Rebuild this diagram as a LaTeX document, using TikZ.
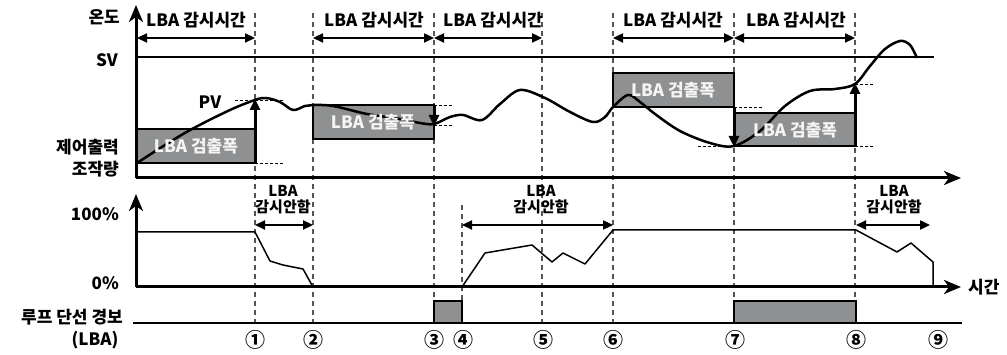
\documentclass[tikz,border=0pt]{standalone}
\usepackage{fontspec}
\setmainfont{Noto Sans CJK KR}[BoldFont={Noto Sans CJK KR Black}]
\usetikzlibrary{arrows.meta}
\definecolor{boxgray}{HTML}{8E9092}
\definecolor{dashgray}{HTML}{555555}
\definecolor{boxtext}{HTML}{F4F4F4}
\begin{document}
\begin{tikzpicture}[x=1pt,y=-1pt,
  lbl/.style={font=\fontsize{17}{19}\selectfont\bfseries, inner sep=0pt},
  small/.style={font=\fontsize{15}{16}\selectfont\bfseries, inner sep=0pt, align=center},
  num/.style={font=\fontsize{20}{20}\selectfont\bfseries, inner sep=0pt},
  axis/.style={line width=3pt, -{Stealth[length=17pt,width=14pt,inset=5pt]}},
  dimarr/.style={line width=2.3pt, {Triangle[length=10pt,width=9pt]}-{Triangle[length=10pt,width=9pt]}},
  vdash/.style={dashgray, line width=1.3pt, dash pattern=on 5pt off 4pt},
  hdot/.style={line width=0.9pt, dash pattern=on 3pt off 2pt},
  lbabox/.style={fill=boxgray, draw=black, line width=2.5pt},
  varr/.style={line width=3pt, -{Triangle[length=11pt,width=10pt]}},
  curve/.style={line width=2.5pt, line join=round},
  outline/.style={line width=1.5pt, line join=round},
  boxlbl/.style={lbl, text=boxtext}
]
\useasboundingbox (0,0) rectangle (1007,355);

% ---------- dashed vertical markers ----------
\foreach \n/\x in {1/255,2/313,3/434,5/542,6/613,7/734,8/855}{
  \coordinate (t\n) at (\x,13);
  \coordinate (b\n) at (\x,323);
  \draw[vdash] (t\n) -- (b\n);
}
\coordinate (t4) at (462,205);
\coordinate (b4) at (462,323);
\draw[vdash] (t4) -- (b4);

% ---------- SV line ----------
\coordinate (sv0) at (136,57);
\coordinate (sv1) at (934,57);
\draw[line width=1.5pt] (sv0) -- (sv1);

% ---------- LBA detection boxes ----------
\fill[boxgray] (137,129) rectangle (255,163);
\draw[line width=2.5pt] (255,129) -- (137,129) -- (137,163) -- (255,163);
\draw[lbabox] (313,105) rectangle (434,139);
\draw[lbabox] (613,73) rectangle (734,107);
\draw[lbabox] (734,113) rectangle (855,146);

% ---------- short dotted level lines ----------
\draw[hdot] (235,100) -- (283,100);
\draw[hdot] (255,163) -- (283,163);
\draw[hdot] (434,105) -- (453,105);
\draw[hdot] (434,125) -- (453,125);
\draw[hdot] (734,107) -- (762,107);
\draw[hdot] (698,146) -- (734,146);
\draw[hdot] (855,84) -- (874,84);
\draw[hdot] (855,146) -- (874,146);

% ---------- PV curve ----------
\draw[curve] plot[smooth, tension=0.55] coordinates {
 (137,163) (165,145) (192,129) (230,110) (255,100) (266,98) (280,102)
 (293,110) (305,106) (313,105) (333,106) (367,114) (400,119) (420,123) (434,124)
 (450,117) (463,115) (482,120) (500,104) (520,90) (545,98) (570,112) (593,122)
 (605,117) (613,107) (628,95) (640,102) (655,114) (680,131) (710,143) (734,146)
 (760,131) (785,106) (810,91) (835,89) (855,84) (870,66) (885,49) (900,41)
 (910,45) (917,58)};

% ---------- vertical arrows ----------
\coordinate (a1s) at (255,163); \coordinate (a1e) at (255,99);
\coordinate (a3s) at (434,105); \coordinate (a3e) at (434,126);
\coordinate (a7s) at (734,107); \coordinate (a7e) at (734,147);
\coordinate (a8s) at (855,146); \coordinate (a8e) at (855,83);
\draw[varr] (a1s) -- (a1e);
\draw[varr] (a3s) -- (a3e);
\draw[varr] (a7s) -- (a7e);
\draw[varr] (a8s) -- (a8e);

% ---------- box labels ----------
\node[boxlbl] (w1) at (196,146) {LBA 검출폭};
\node[boxlbl] (w2) at (373,122) {LBA 검출폭};
\node[boxlbl] (w3) at (673,90) {LBA 검출폭};
\node[boxlbl] (w4) at (795,130) {LBA 검출폭};

% ---------- upper axes ----------
\coordinate (o1) at (136,178);
\coordinate (y1) at (136,5);
\coordinate (x1) at (961,178);
\draw[axis] (o1) -- (y1);
\draw[axis] (o1) -- (x1);

% ---------- monitoring time arrows ----------
\coordinate (d0) at (137,38);
\coordinate (m1) at (255,38); \coordinate (m2) at (313,38);
\coordinate (m3) at (434,38); \coordinate (m5) at (542,38);
\coordinate (m6) at (613,38); \coordinate (m7) at (734,38);
\coordinate (m8) at (855,38);
\draw[dimarr] (d0) -- (m1);
\draw[dimarr] (m2) -- (m3);
\draw[dimarr] (m3) -- (m5);
\draw[dimarr] (m6) -- (m7);
\draw[dimarr] (m7) -- (m8);
\node[lbl] (g1) at (196,20) {LBA 감시시간};
\node[lbl] (g2) at (374,20) {LBA 감시시간};
\node[lbl] (g3) at (493,20) {LBA 감시시간};
\node[lbl] (g4) at (673,20) {LBA 감시시간};
\node[lbl] (g5) at (796,20) {LBA 감시시간};

% ---------- left labels ----------
\node[lbl, anchor=east] (temp) at (120,17) {온도};
\node[lbl, anchor=east] (sv) at (118,60) {SV};
\node[lbl] (pv) at (210,102) {PV};
\node[lbl, anchor=east] (mv1) at (119,147) {제어출력};
\node[lbl, anchor=east] (mv2) at (119,169) {조작량};

% ---------- lower output graph ----------
\coordinate (o2) at (136,287);
\coordinate (y2) at (136,194);
\coordinate (x2) at (961,287);
\draw[outline] (136,232) -- (255,232) -- (270,261) -- (283,265) -- (303,269) -- (313,287);
\draw[outline] (462,287) -- (485,253) -- (532,245) -- (552,262) -- (563,253)
  -- (585,264) -- (613,230) -- (856,230) -- (897,252) -- (911,243) -- (933,262) -- (933,287);
\draw[axis] (o2) -- (y2);
\draw[axis] (o2) -- (x2);
\node[lbl, anchor=east] (p100) at (119,214) {100\%};
\node[lbl, anchor=east] (p0) at (119,283) {0\%};
\node[lbl, anchor=west] (time) at (968,287) {시간};

\coordinate (n1a) at (255,225); \coordinate (n2a) at (313,225);
\coordinate (n4a) at (462,225); \coordinate (n6a) at (613,225);
\coordinate (n8a) at (856,225); \coordinate (n9a) at (930,225);
\draw[dimarr] (n1a) -- (n2a);
\draw[dimarr] (n4a) -- (n6a);
\draw[dimarr] (n8a) -- (n9a);
\node[small] (na1) at (283,200) {LBA\\감시안함};
\node[small] (na2) at (541,200) {LBA\\감시안함};
\node[small] (na3) at (894,200) {LBA\\감시안함};

% ---------- alarm output ----------
\coordinate (al0) at (133,323);
\coordinate (al1) at (962,323);
\draw[lbabox] (434,301) rectangle (462,323);
\draw[lbabox] (734,301) rectangle (856,323);
\draw[line width=2.3pt] (al0) -- (al1);
\node[lbl, anchor=east] (alm1) at (123,317) {루프 단선 경보};
\node[lbl] (alm2) at (95,340) {(LBA)};

% ---------- circled numbers ----------
\node[num] (c1) at (255,340) {①};
\node[num] (c2) at (313,340) {②};
\node[num] (c3) at (434,340) {③};
\node[num] (c4) at (463,340) {④};
\node[num] (c5) at (543,340) {⑤};
\node[num] (c6) at (613,340) {⑥};
\node[num] (c7) at (735,340) {⑦};
\node[num] (c8) at (856,340) {⑧};
\node[num] (c9) at (938,340) {⑨};
\end{tikzpicture}
\end{document}
